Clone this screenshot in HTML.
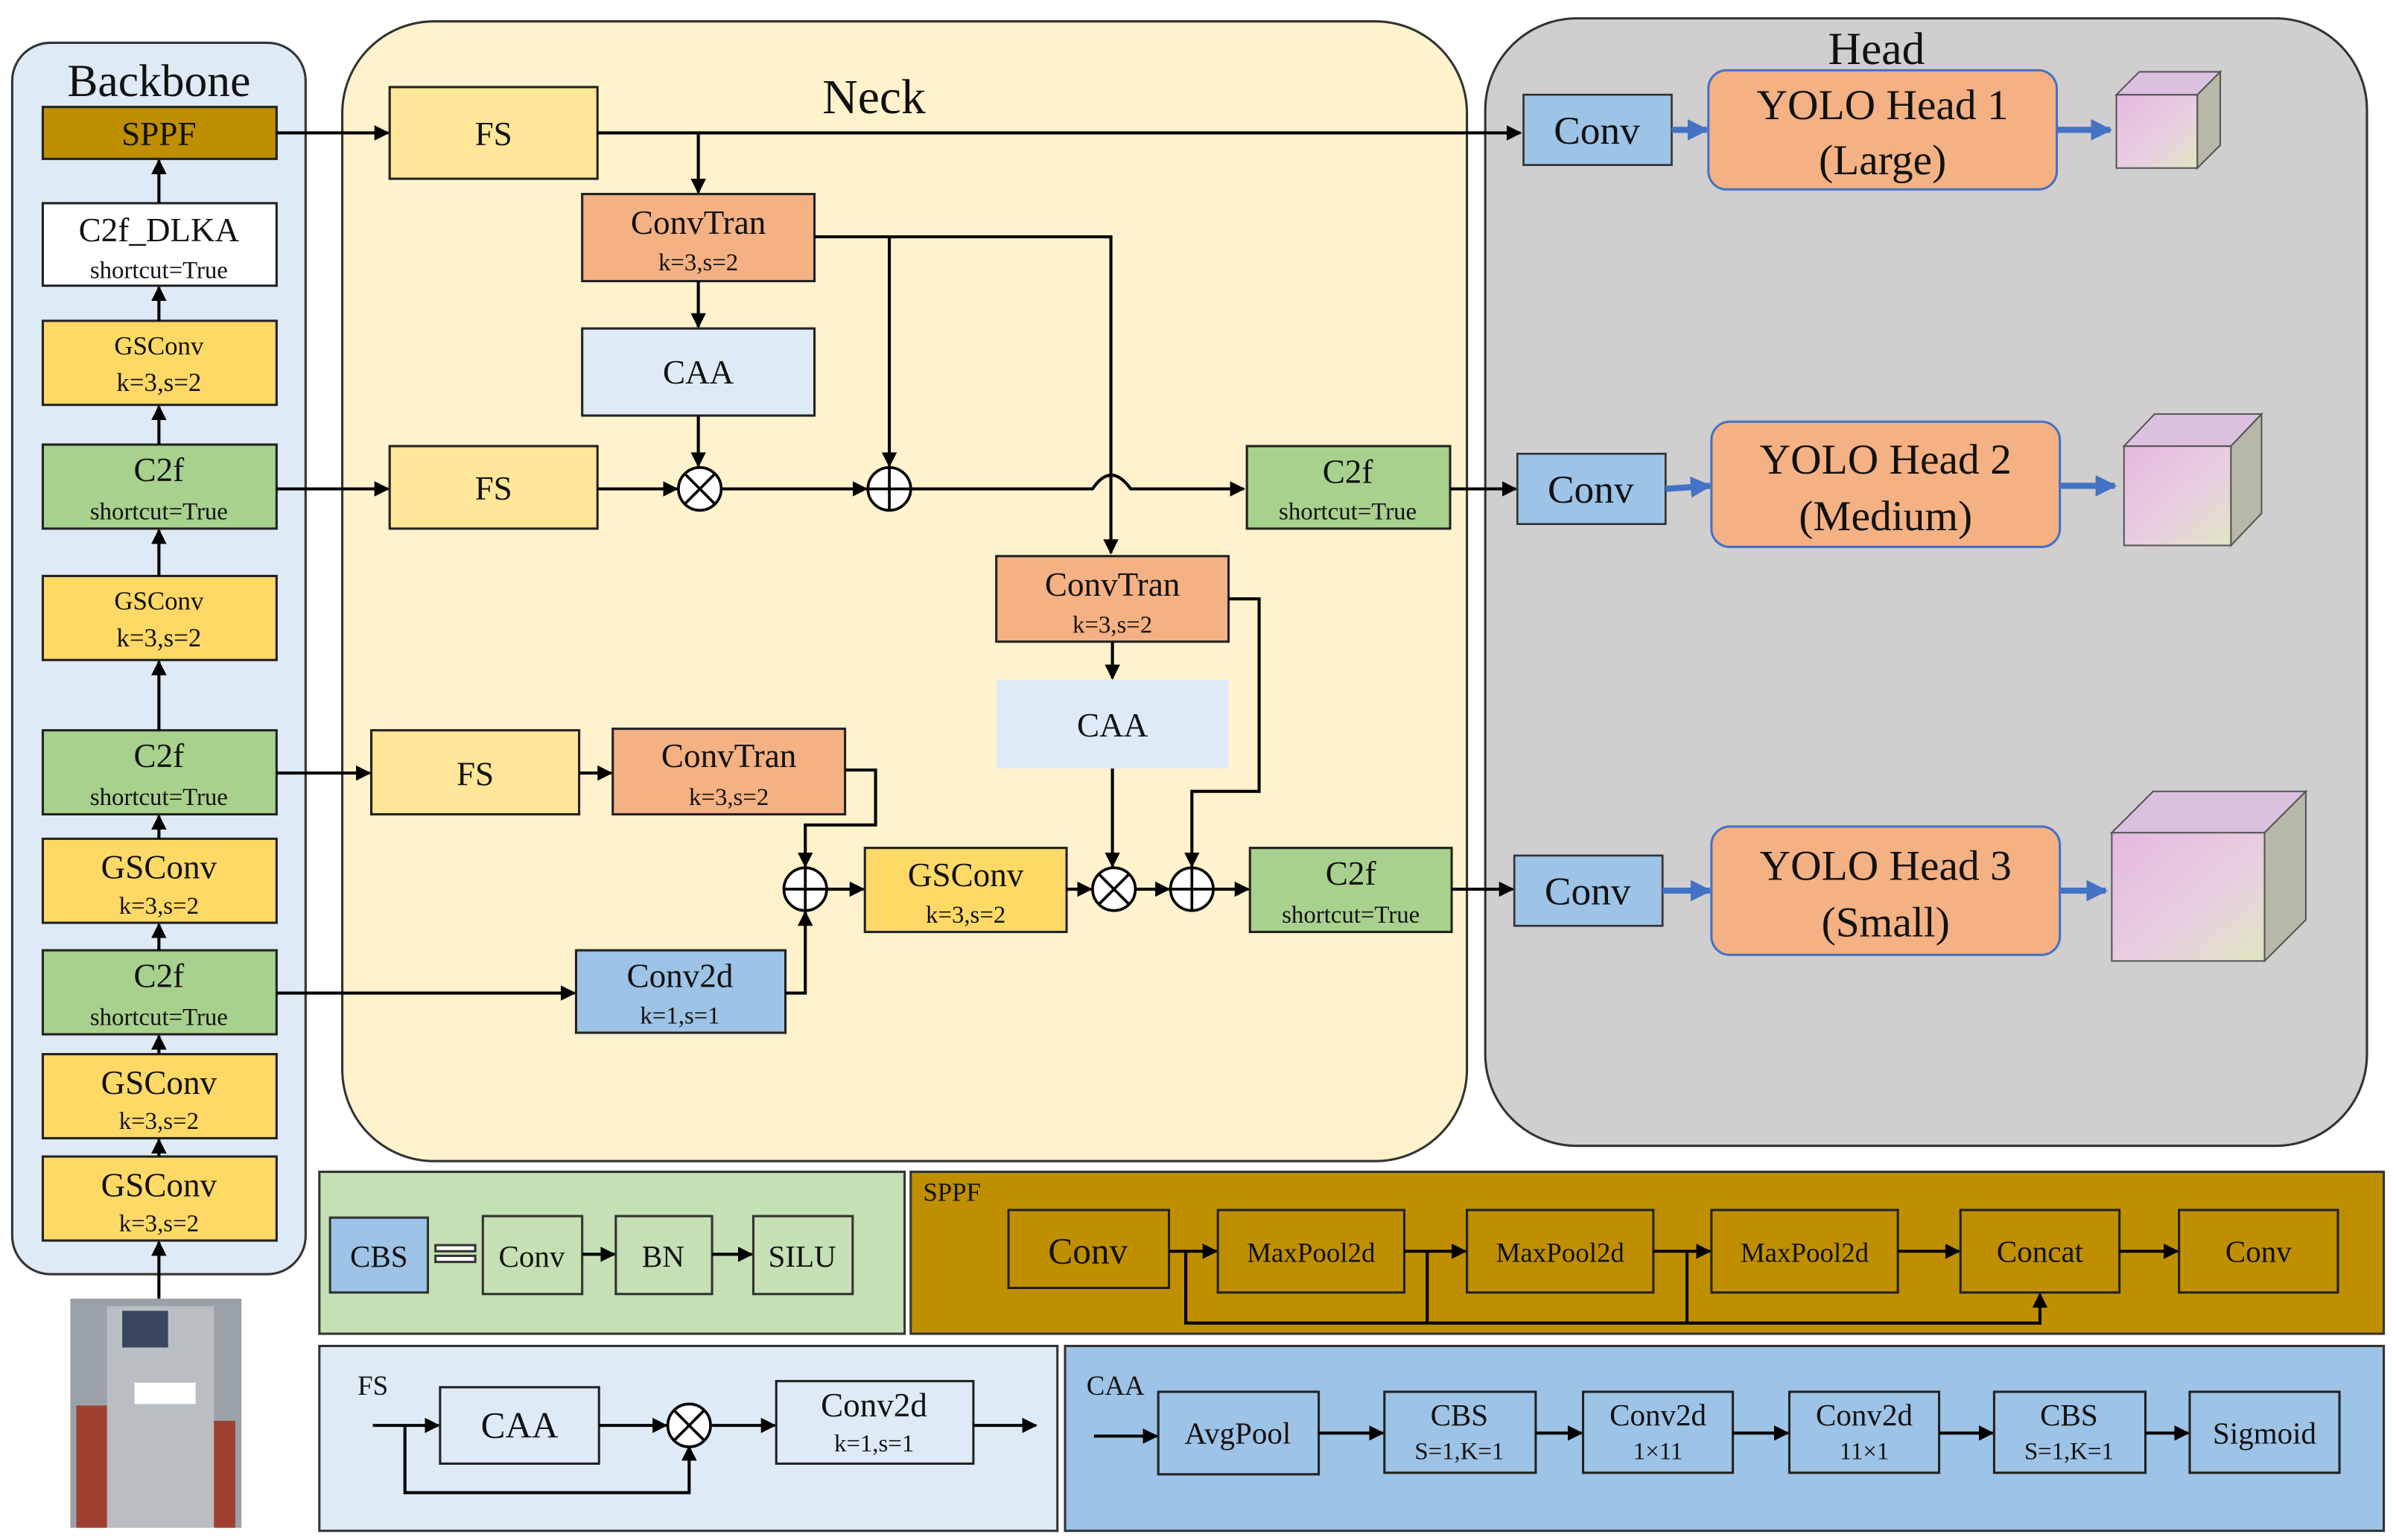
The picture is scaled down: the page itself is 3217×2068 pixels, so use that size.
<!DOCTYPE html>
<html><head><meta charset="utf-8"><style>html,body{margin:0;padding:0;background:#fff}svg{display:block}svg,text{font-family:"Liberation Serif",serif !important;fill:#111}</style></head>
<body>
<svg width="3217" height="2068" viewBox="0 0 1568 1008" preserveAspectRatio="none" font-family="Liberation Serif, serif" xmlns="http://www.w3.org/2000/svg">
<defs>
<marker id="a" viewBox="0 0 10 10" refX="9" refY="5" markerWidth="5" markerHeight="5" orient="auto"><path d="M0,0L10,5L0,10z" fill="#000"/></marker>
<marker id="b" viewBox="0 0 10 10" refX="9" refY="5" markerWidth="3.5" markerHeight="3.5" orient="auto"><path d="M0,0L10,5L0,10z" fill="#4472c4"/></marker>
<linearGradient id="g" x1="0" y1="0" x2="1" y2="1"><stop offset="0" stop-color="#e6b8e0"/><stop offset="0.6" stop-color="#e8d0e0"/><stop offset="1" stop-color="#e0e6c0"/></linearGradient>
</defs>
<g stroke="#333" stroke-width="1.5">
<rect x="8" y="28" width="192" height="806" rx="25" fill="#deeaf6"/>
<rect x="224" y="14" width="736" height="746" rx="60" fill="#fff2cc"/>
<rect x="972" y="12" width="577" height="738" rx="60" fill="#d0cece"/>
</g>
<text x="104" y="63" font-size="30" text-anchor="middle">Backbone</text>
<text x="572" y="74" font-size="32" text-anchor="middle">Neck</text>
<text x="1228" y="42" font-size="30" text-anchor="middle">Head</text>

<g stroke="#222" stroke-width="1.5">
<rect x="28" y="70" width="153" height="34" fill="#bf8f00"/>
<rect x="28" y="133" width="153" height="54" fill="#fff"/>
<rect x="28" y="210" width="153" height="55" fill="#ffd966"/>
<rect x="28" y="291" width="153" height="55" fill="#a9d18e"/>
<rect x="28" y="377" width="153" height="55" fill="#ffd966"/>
<rect x="28" y="478" width="153" height="55" fill="#a9d18e"/>
<rect x="28" y="549" width="153" height="55" fill="#ffd966"/>
<rect x="28" y="622" width="153" height="55" fill="#a9d18e"/>
<rect x="28" y="690" width="153" height="55" fill="#ffd966"/>
<rect x="28" y="757" width="153" height="55" fill="#ffd966"/>
</g>
<g font-size="22" text-anchor="middle">
<text x="104" y="95">SPPF</text>
<text x="104" y="158">C2f_DLKA</text><text x="104" y="182" font-size="16">shortcut=True</text>
<text x="104" y="232" font-size="17">GSConv</text><text x="104" y="256" font-size="17">k=3,s=2</text>
<text x="104" y="315">C2f</text><text x="104" y="340" font-size="16">shortcut=True</text>
<text x="104" y="399" font-size="17">GSConv</text><text x="104" y="423" font-size="17">k=3,s=2</text>
<text x="104" y="502">C2f</text><text x="104" y="527" font-size="16">shortcut=True</text>
<text x="104" y="575">GSConv</text><text x="104" y="598" font-size="16">k=3,s=2</text>
<text x="104" y="646">C2f</text><text x="104" y="671" font-size="16">shortcut=True</text>
<text x="104" y="716">GSConv</text><text x="104" y="739" font-size="16">k=3,s=2</text>
<text x="104" y="783">GSConv</text><text x="104" y="806" font-size="16">k=3,s=2</text>
</g>
<g stroke="#000" stroke-width="2" marker-end="url(#a)">
<line x1="104" y1="133" x2="104" y2="105"/>
<line x1="104" y1="210" x2="104" y2="188"/>
<line x1="104" y1="291" x2="104" y2="266"/>
<line x1="104" y1="377" x2="104" y2="347"/>
<line x1="104" y1="478" x2="104" y2="433"/>
<line x1="104" y1="549" x2="104" y2="534"/>
<line x1="104" y1="622" x2="104" y2="605"/>
<line x1="104" y1="690" x2="104" y2="678"/>
<line x1="104" y1="757" x2="104" y2="746"/>
<line x1="104" y1="850" x2="104" y2="813"/>
</g>
<rect x="46" y="850" width="112" height="150" fill="#9aa2a8"/>
<rect x="70" y="855" width="70" height="145" fill="#b8bec2"/>
<rect x="80" y="858" width="30" height="24" fill="#3a4660"/>
<rect x="50" y="920" width="20" height="80" fill="#a04030"/>
<rect x="140" y="930" width="14" height="70" fill="#a04030"/>
<rect x="88" y="905" width="40" height="14" fill="#fff"/>

<g stroke="#222" stroke-width="1.5">
<rect x="255" y="57" width="136" height="60" fill="#ffe699"/>
<rect x="381" y="127" width="152" height="57" fill="#f4b183"/>
<rect x="381" y="215" width="152" height="57" fill="#deebf7"/>
<rect x="255" y="292" width="136" height="54" fill="#ffe699"/>
<rect x="816" y="292" width="133" height="54" fill="#a9d18e"/>
<rect x="652" y="364" width="152" height="56" fill="#f4b183"/>
<rect x="652" y="445" width="152" height="58" fill="#deebf7" stroke="none"/>
<rect x="243" y="478" width="136" height="55" fill="#ffe699"/>
<rect x="401" y="477" width="152" height="56" fill="#f4b183"/>
<rect x="377" y="622" width="137" height="54" fill="#9dc3e6"/>
<rect x="566" y="555" width="132" height="55" fill="#ffd966"/>
<rect x="818" y="555" width="132" height="55" fill="#a9d18e"/>
</g>
<g font-size="22" text-anchor="middle">
<text x="323" y="95">FS</text>
<text x="457" y="153">ConvTran</text><text x="457" y="177" font-size="16">k=3,s=2</text>
<text x="457" y="251">CAA</text>
<text x="323" y="327">FS</text>
<text x="882" y="316">C2f</text><text x="882" y="340" font-size="16">shortcut=True</text>
<text x="728" y="390">ConvTran</text><text x="728" y="414" font-size="16">k=3,s=2</text>
<text x="728" y="482">CAA</text>
<text x="311" y="514">FS</text>
<text x="477" y="502">ConvTran</text><text x="477" y="527" font-size="16">k=3,s=2</text>
<text x="445" y="646">Conv2d</text><text x="445" y="670" font-size="16">k=1,s=1</text>
<text x="632" y="580">GSConv</text><text x="632" y="604" font-size="16">k=3,s=2</text>
<text x="884" y="579">C2f</text><text x="884" y="604" font-size="16">shortcut=True</text>
</g>
<g stroke="#000" stroke-width="2" fill="none">
<line x1="181" y1="87" x2="254" y2="87" marker-end="url(#a)"/>
<line x1="391" y1="87" x2="995" y2="87" marker-end="url(#a)"/>
<line x1="457" y1="87" x2="457" y2="126" marker-end="url(#a)"/>
<line x1="457" y1="184" x2="457" y2="214" marker-end="url(#a)"/>
<line x1="457" y1="272" x2="457" y2="305" marker-end="url(#a)"/>
<line x1="181" y1="320" x2="254" y2="320" marker-end="url(#a)"/>
<line x1="391" y1="320" x2="443" y2="320" marker-end="url(#a)"/>
<line x1="472" y1="320" x2="567" y2="320" marker-end="url(#a)"/>
<polyline points="533,155 582,155 582,305" marker-end="url(#a)"/>
<polyline points="582,155 727,155 727,362" marker-end="url(#a)"/>
<path d="M596,320 L715,320 Q727,302 740,320 L814,320" marker-end="url(#a)"/>
<line x1="949" y1="320" x2="992" y2="320" marker-end="url(#a)"/>
<line x1="728" y1="420" x2="728" y2="444" marker-end="url(#a)"/>
<line x1="728" y1="503" x2="728" y2="567" marker-end="url(#a)"/>
<polyline points="804,392 824,392 824,518 780,518 780,567" marker-end="url(#a)"/>
<line x1="181" y1="506" x2="242" y2="506" marker-end="url(#a)"/>
<line x1="379" y1="506" x2="400" y2="506" marker-end="url(#a)"/>
<polyline points="553,504 573,504 573,540 527,540 527,567" marker-end="url(#a)"/>
<line x1="181" y1="650" x2="376" y2="650" marker-end="url(#a)"/>
<polyline points="514,650 527,650 527,597" marker-end="url(#a)"/>
<line x1="541" y1="582" x2="565" y2="582" marker-end="url(#a)"/>
<line x1="698" y1="582" x2="714" y2="582" marker-end="url(#a)"/>
<line x1="743" y1="582" x2="765" y2="582" marker-end="url(#a)"/>
<line x1="794" y1="582" x2="817" y2="582" marker-end="url(#a)"/>
<line x1="950" y1="582" x2="990" y2="582" marker-end="url(#a)"/>
</g>
<g stroke="#000" stroke-width="1.8" fill="#fff">
<circle cx="458" cy="320" r="14"/><path d="M448,310L468,330M468,310L448,330"/>
<circle cx="582" cy="320" r="14"/><path d="M568,320H596M582,306V334"/>
<circle cx="729" cy="582" r="14"/><path d="M719,572L739,592M739,572L719,592"/>
<circle cx="780" cy="582" r="14"/><path d="M766,582H794M780,568V596"/>
<circle cx="527" cy="582" r="14"/><path d="M513,582H541M527,568V596"/>
</g>

<g stroke="#333" stroke-width="1.3">
<rect x="997" y="62" width="97" height="46" fill="#9dc3e6"/>
<rect x="993" y="297" width="97" height="46" fill="#9dc3e6"/>
<rect x="991" y="560" width="97" height="46" fill="#9dc3e6"/>
</g>
<g stroke="#4472c4" stroke-width="1.5" fill="#f4b183">
<rect x="1118" y="46" width="228" height="78" rx="12"/>
<rect x="1120" y="276" width="228" height="82" rx="12"/>
<rect x="1120" y="541" width="228" height="84" rx="12"/>
</g>
<g font-size="26" text-anchor="middle">
<text x="1045" y="94">Conv</text><text x="1041" y="329">Conv</text><text x="1039" y="592">Conv</text>
<text x="1232" y="78" font-size="28">YOLO Head 1</text><text x="1232" y="114" font-size="28">(Large)</text>
<text x="1234" y="310" font-size="28">YOLO Head 2</text><text x="1234" y="347" font-size="28">(Medium)</text>
<text x="1234" y="576" font-size="28">YOLO Head 3</text><text x="1234" y="613" font-size="28">(Small)</text>
</g>
<g stroke="#4472c4" stroke-width="4" marker-end="url(#b)">
<line x1="1094" y1="85" x2="1117" y2="85"/>
<line x1="1090" y1="320" x2="1119" y2="318"/>
<line x1="1088" y1="583" x2="1119" y2="583"/>
<line x1="1346" y1="85" x2="1381" y2="85"/>
<line x1="1348" y1="318" x2="1384" y2="318"/>
<line x1="1348" y1="583" x2="1378" y2="583"/>
</g>
<g stroke="#555" stroke-width="1">
<rect x="1385" y="62" width="53" height="48" fill="url(#g)"/>
<path d="M1385,62L1400,47L1453,47L1438,62Z" fill="#dcc0e0"/>
<path d="M1438,62L1453,47L1453,95L1438,110Z" fill="#b8b8a8"/>
<rect x="1390" y="292" width="70" height="65" fill="url(#g)"/>
<path d="M1390,292L1410,271L1480,271L1460,292Z" fill="#dcc0e0"/>
<path d="M1460,292L1480,271L1480,336L1460,357Z" fill="#b8b8a8"/>
<rect x="1382" y="545" width="100" height="84" fill="url(#g)"/>
<path d="M1382,545L1409,518L1509,518L1482,545Z" fill="#dcc0e0"/>
<path d="M1482,545L1509,518L1509,602L1482,629Z" fill="#b8b8a8"/>
</g>

<g stroke="#333" stroke-width="1.5">
<rect x="209" y="767" width="383" height="106" fill="#c5e0b4"/>
<rect x="596" y="767" width="964" height="106" fill="#bf8f00"/>
<rect x="209" y="881" width="483" height="121" fill="#deebf7"/>
<rect x="697" y="881" width="863" height="121" fill="#9dc3e6"/>
<rect x="216" y="797" width="64" height="49" fill="#9dc3e6"/>
<rect x="316" y="796" width="65" height="51" fill="#c5e0b4"/>
<rect x="403" y="796" width="63" height="51" fill="#c5e0b4"/>
<rect x="493" y="796" width="65" height="51" fill="#c5e0b4"/>
<rect x="285" y="815" width="26" height="4" fill="#fff"/><rect x="285" y="822" width="26" height="4" fill="#fff"/>
</g>
<g stroke="#222" stroke-width="1.5" fill="none">
<rect x="660" y="792" width="105" height="51"/>
<rect x="797" y="792" width="122" height="54"/>
<rect x="960" y="792" width="122" height="54"/>
<rect x="1120" y="792" width="122" height="54"/>
<rect x="1283" y="792" width="104" height="54"/>
<rect x="1426" y="792" width="104" height="54"/>
<rect x="288" y="908" width="104" height="50" fill="#deebf7"/>
<rect x="508" y="904" width="129" height="54" fill="#deebf7"/>
<rect x="758" y="911" width="105" height="54"/>
<rect x="906" y="911" width="99" height="53"/>
<rect x="1036" y="911" width="98" height="53"/>
<rect x="1171" y="911" width="98" height="53"/>
<rect x="1305" y="911" width="99" height="53"/>
<rect x="1433" y="911" width="98" height="53"/>
</g>
<g font-size="20" text-anchor="middle">
<text x="248" y="829">CBS</text><text x="348" y="829">Conv</text><text x="434" y="829">BN</text><text x="525" y="829">SILU</text>
<text x="623" y="786" font-size="17">SPPF</text>
<text x="712" y="827" font-size="24">Conv</text><text x="858" y="826" font-size="18">MaxPool2d</text><text x="1021" y="826" font-size="18">MaxPool2d</text><text x="1181" y="826" font-size="18">MaxPool2d</text><text x="1335" y="826">Concat</text><text x="1478" y="826">Conv</text>
<text x="244" y="913" font-size="18">FS</text>
<text x="340" y="941" font-size="24">CAA</text>
<text x="572" y="927" font-size="22">Conv2d</text><text x="572" y="950" font-size="16">k=1,s=1</text>
<text x="730" y="913" font-size="18">CAA</text>
<text x="810" y="945">AvgPool</text>
<text x="955" y="933">CBS</text><text x="955" y="955" font-size="16">S=1,K=1</text>
<text x="1085" y="933">Conv2d</text><text x="1085" y="955" font-size="16">1×11</text>
<text x="1220" y="933">Conv2d</text><text x="1220" y="955" font-size="16">11×1</text>
<text x="1354" y="933">CBS</text><text x="1354" y="955" font-size="16">S=1,K=1</text>
<text x="1482" y="945">Sigmoid</text>
</g>
<g stroke="#000" stroke-width="2" fill="none" marker-end="url(#a)">
<line x1="381" y1="821" x2="402" y2="821"/>
<line x1="466" y1="821" x2="492" y2="821"/>
<line x1="765" y1="819" x2="796" y2="819"/>
<line x1="919" y1="819" x2="959" y2="819"/>
<line x1="1082" y1="819" x2="1119" y2="819"/>
<line x1="1242" y1="819" x2="1282" y2="819"/>
<line x1="1387" y1="819" x2="1425" y2="819"/>
<polyline points="776,819 776,866 1335,866 1335,847"/>
<line x1="244" y1="933" x2="287" y2="933"/>
<line x1="392" y1="933" x2="436" y2="933"/>
<line x1="466" y1="933" x2="507" y2="933"/>
<line x1="637" y1="933" x2="678" y2="933"/>
<polyline points="265,933 265,977 451,977 451,947"/>
<line x1="716" y1="940" x2="757" y2="940"/>
<line x1="863" y1="938" x2="905" y2="938"/>
<line x1="1005" y1="938" x2="1035" y2="938"/>
<line x1="1134" y1="938" x2="1170" y2="938"/>
<line x1="1269" y1="938" x2="1304" y2="938"/>
<line x1="1404" y1="938" x2="1432" y2="938"/>
</g>
<g stroke="#000" stroke-width="2"><line x1="934" y1="819" x2="934" y2="866"/><line x1="1104" y1="819" x2="1104" y2="866"/></g>
<g stroke="#000" stroke-width="1.8" fill="#fff"><circle cx="451" cy="933" r="14"/><path d="M441,923L461,943M461,923L441,943"/></g>
</svg>
</body></html>
